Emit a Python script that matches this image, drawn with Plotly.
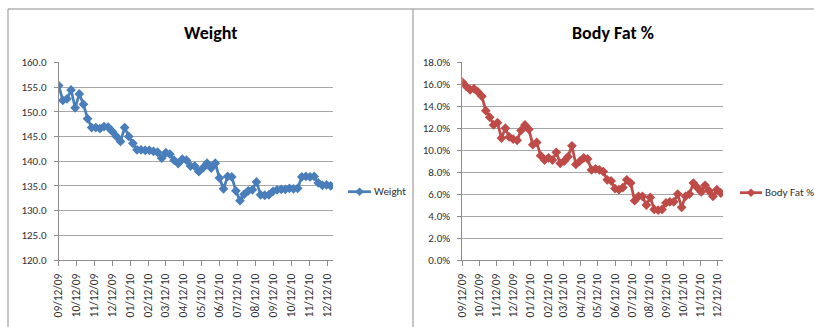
import datetime as dt
import plotly.graph_objects as go

start = dt.date(2009, 9, 12)
dates = [start + dt.timedelta(days=7 * i) for i in range(67)]

weight = [155.3, 152.3, 152.6, 154.4, 150.8, 153.6, 151.5, 148.6, 146.8, 146.8,
          146.6, 147.0, 146.9, 146.0, 145.0, 144.0, 146.8, 145.0, 143.6, 142.3,
          142.3, 142.2, 142.2, 142.0, 141.8, 140.6, 141.7, 141.4, 140.2, 139.5,
          140.4, 140.2, 139.0, 139.0, 137.9, 138.6, 139.6, 138.6, 139.6, 136.6,
          134.4, 136.9, 136.8, 134.0, 132.0, 133.3, 134.0, 134.2, 135.8, 133.2,
          133.1, 133.2, 133.9, 134.2, 134.3, 134.3, 134.5, 134.4, 134.5, 136.8,
          136.9, 136.8, 136.9, 135.6, 135.1, 135.2, 135.0]

body_fat = [16.2, 15.8, 15.5, 15.6, 15.3, 14.9, 13.6, 13.0, 12.3, 12.5,
            11.1, 12.0, 11.2, 11.0, 10.9, 11.8, 12.3, 11.9, 10.5, 10.7,
            9.5, 9.1, 9.3, 9.1, 9.8, 8.8, 9.0, 9.4, 10.4, 8.7,
            9.0, 9.3, 9.2, 8.2, 8.3, 8.2, 8.05, 7.3, 7.2, 6.5,
            6.4, 6.6, 7.3, 7.0, 5.4, 5.8, 5.8, 5.0, 5.7, 4.6,
            4.55, 4.6, 5.2, 5.3, 5.3, 6.0, 4.8, 5.8, 6.0, 7.0,
            6.6, 6.2, 6.8, 6.3, 5.8, 6.4, 6.1]
body_fat = [v / 100 for v in body_fat]

tick_dates = [dt.date(2009 + (8 + m) // 12, (8 + m) % 12 + 1, 12) for m in range(16)]
tick_text = [d.strftime("%m/%d/%y") for d in tick_dates]

W, H = 814, 327
def px(x):
    return x / W
def py(y):
    return 1 - y / H

FONT = "Carlito, Lato, 'Liberation Sans', sans-serif"
BLUE = "#4A7EBB"
RED = "#BE4B48"
GRID = "#A6A6A6"
AX = "#8C8C8C"
TXT = "#303030"

fig = go.Figure()
fig.add_trace(go.Scatter(x=dates, y=weight, mode="lines+markers", name="Weight",
                         line=dict(color=BLUE, width=2.75),
                         marker=dict(symbol="diamond", size=7.5, color=BLUE),
                         xaxis="x", yaxis="y", showlegend=False))
fig.add_trace(go.Scatter(x=dates, y=body_fat, mode="lines+markers", name="Body Fat %",
                         line=dict(color=RED, width=2.75),
                         marker=dict(symbol="diamond", size=7.5, color=RED),
                         xaxis="x2", yaxis="y2", showlegend=False))

xrange = [dt.date(2009, 9, 12), dt.date(2010, 12, 22)]
xcommon = dict(type="date", range=xrange, tickvals=tick_dates, ticktext=tick_text,
               tickangle=-90, showgrid=False, showline=True, linecolor=AX, linewidth=1,
               ticks="outside", ticklen=5, tickcolor=AX, ticklabelstandoff=3,
               automargin=False,
               tickfont=dict(family=FONT, size=11.5, color=TXT), zeroline=False)
ycommon = dict(showgrid=True, gridcolor=GRID, gridwidth=1, showline=True, linecolor=AX,
               linewidth=1, ticks="outside", ticklen=4, tickcolor=AX, zeroline=False,
               ticklabelstandoff=5, automargin=False,
               tickfont=dict(family=FONT, size=11, color=TXT))


def legend_entry(x0, x1, y, color, label):
    """Legend sample (line + diamond) and its text, in pixel layout positions."""
    cx = (x0 + x1) / 2
    s = 4
    shapes = [
        dict(type="line", xref="paper", yref="paper", x0=px(x0), x1=px(x1), y0=py(y), y1=py(y),
             line=dict(color=color, width=2.75)),
        dict(type="path", xref="paper", yref="paper",
             path=f"M {px(cx - s)},{py(y)} L {px(cx)},{py(y - s)} L {px(cx + s)},{py(y)} "
                  f"L {px(cx)},{py(y + s)} Z",
             fillcolor=color, line=dict(color=color, width=0.5)),
    ]
    ann = dict(text=label, x=px(x1 + 1), y=py(y), xref="paper", yref="paper",
               xanchor="left", yanchor="middle", showarrow=False,
               font=dict(family=FONT, size=11, color=TXT))
    return shapes, ann


leg1_shapes, leg1_ann = legend_entry(348, 371, 191.7, BLUE, "Weight")
leg2_shapes, leg2_ann = legend_entry(740, 762, 192.7, RED, "Body Fat %")

fig.update_layout(
    template="none",
    width=W, height=H, margin=dict(l=0, r=0, t=0, b=0, pad=0),
    paper_bgcolor="white", plot_bgcolor="white",
    showlegend=False,
    xaxis=dict(domain=[px(58.7), px(333)], anchor="y", **xcommon),
    yaxis=dict(domain=[py(260), py(62.3)], anchor="x", range=[120, 160], dtick=5,
               tickformat=".1f", **ycommon),
    xaxis2=dict(domain=[px(462.3), px(723)], anchor="y2", **xcommon),
    yaxis2=dict(domain=[py(260), py(62.3)], anchor="x2", range=[0, 0.18], dtick=0.02,
                tickformat=".1%", **ycommon),
    annotations=[
        dict(text="<b>Weight</b>", x=px(210), y=py(33), xref="paper", yref="paper",
             xanchor="center", yanchor="middle",
             showarrow=False, font=dict(family=FONT, size=18, color="black")),
        dict(text="<b>Body Fat %</b>", x=px(613), y=py(33), xref="paper", yref="paper",
             xanchor="center", yanchor="middle",
             showarrow=False, font=dict(family=FONT, size=18, color="black")),
        leg1_ann, leg2_ann,
    ],
    shapes=[
        dict(type="rect", xref="paper", yref="paper", x0=px(8), x1=px(413), y0=-0.05, y1=py(9),
             line=dict(color="#8C8C8C", width=1)),
        dict(type="line", xref="paper", yref="paper", x0=px(413), x1=1.0, y0=py(9), y1=py(9),
             line=dict(color="#8C8C8C", width=1)),
    ] + leg1_shapes + leg2_shapes,
)

fig.write_html("out.html")
